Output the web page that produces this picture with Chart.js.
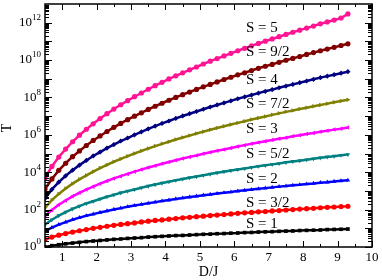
<!DOCTYPE html>
<html>
<head>
<meta charset="utf-8">
<script src="https://cdn.jsdelivr.net/npm/chart.js@4.4.0/dist/chart.umd.min.js"></script>
<style>
  html, body { margin: 0; padding: 0; background: #fff; }
  canvas { display: block; }
</style>
</head>
<body>
<canvas id="chart" width="382" height="280"></canvas>
<script>
// D/J values shared by every curve
const DJ = [0.5, 0.7, 0.9, 1.1, 1.3, 1.5, 1.7, 1.9, 2.1, 2.3, 2.5, 2.7, 2.9, 3.1, 3.3, 3.5, 3.7, 3.9,
  4.1, 4.3, 4.5, 4.7, 4.9, 5.1, 5.3, 5.5, 5.7, 5.9, 6.1, 6.3, 6.5, 6.7, 6.9, 7.1, 7.3, 7.5, 7.7,
  7.9, 8.1, 8.3, 8.5, 8.7, 8.9, 9.1, 9.3];

// log10(T), one array per spin
const logT_S1 = [0, .07, .12, .17, .21, .25, .29, .32, .35, .38, .41, .43, .46, .48, .50, .53, .55, .57,
  .59, .61, .62, .64, .66, .68, .69, .71, .72, .74, .75, .77, .78, .80, .81, .82, .84, .85, .86,
  .88, .89, .90, .91, .93, .94, .95, .96];
const logT_S3_2 = [.40, .53, .63, .72, .80, .87, .93, 1.00, 1.05, 1.11, 1.16, 1.21, 1.25, 1.29, 1.34, 1.38,
  1.42, 1.45, 1.49, 1.52, 1.56, 1.59, 1.62, 1.65, 1.68, 1.71, 1.74, 1.77, 1.80, 1.83, 1.85, 1.88,
  1.90, 1.93, 1.95, 1.98, 2.00, 2.03, 2.05, 2.07, 2.10, 2.12, 2.14, 2.16, 2.18];
const logT_S2 = [.85, 1.04, 1.20, 1.33, 1.46, 1.57, 1.67, 1.76, 1.85, 1.93, 2.01, 2.08, 2.15, 2.22, 2.28,
  2.34, 2.40, 2.46, 2.51, 2.57, 2.62, 2.67, 2.72, 2.77, 2.81, 2.86, 2.90, 2.94, 2.99, 3.03, 3.07,
  3.11, 3.15, 3.19, 3.23, 3.26, 3.30, 3.33, 3.37, 3.40, 3.44, 3.47, 3.51, 3.54, 3.57];
const logT_S5_2 = [1.20, 1.46, 1.68, 1.87, 2.04, 2.19, 2.33, 2.45, 2.57, 2.69, 2.79, 2.90, 2.99, 3.08, 3.17,
  3.26, 3.34, 3.42, 3.49, 3.57, 3.64, 3.71, 3.77, 3.84, 3.90, 3.97, 4.03, 4.09, 4.15, 4.20, 4.26,
  4.32, 4.37, 4.42, 4.47, 4.53, 4.58, 4.62, 4.67, 4.72, 4.77, 4.82, 4.86, 4.91, 4.95];
const logT_S3 = [1.65, 1.98, 2.26, 2.49, 2.71, 2.90, 3.07, 3.23, 3.39, 3.53, 3.67, 3.79, 3.91, 4.03, 4.14,
  4.25, 4.35, 4.45, 4.55, 4.64, 4.73, 4.82, 4.90, 4.99, 5.07, 5.15, 5.22, 5.30, 5.38, 5.45, 5.52,
  5.59, 5.66, 5.72, 5.79, 5.85, 5.92, 5.98, 6.04, 6.10, 6.16, 6.22, 6.28, 6.33, 6.39];
const logT_S7_2 = [2.10, 2.51, 2.84, 3.13, 3.39, 3.62, 3.83, 4.03, 4.22, 4.39, 4.56, 4.71, 4.86, 5.00, 5.14,
  5.27, 5.40, 5.52, 5.63, 5.75, 5.86, 5.96, 6.07, 6.17, 6.27, 6.37, 6.46, 6.55, 6.64, 6.73, 6.82,
  6.90, 6.98, 7.07, 7.15, 7.23, 7.30, 7.38, 7.45, 7.53, 7.60, 7.67, 7.74, 7.81, 7.88];
const logT_S4 = [2.60, 3.08, 3.47, 3.81, 4.11, 4.38, 4.63, 4.87, 5.08, 5.29, 5.48, 5.67, 5.83, 6.00, 6.16,
  6.32, 6.47, 6.61, 6.74, 6.88, 7.01, 7.13, 7.25, 7.37, 7.49, 7.60, 7.71, 7.82, 7.93, 8.03, 8.13,
  8.23, 8.33, 8.42, 8.52, 8.61, 8.70, 8.79, 8.88, 8.97, 9.06, 9.14, 9.22, 9.30, 9.38];
const logT_S9_2 = [3.10, 3.64, 4.10, 4.48, 4.83, 5.14, 5.43, 5.70, 5.94, 6.18, 6.40, 6.61, 6.81, 7.00, 7.18,
  7.36, 7.53, 7.69, 7.85, 8.00, 8.15, 8.29, 8.43, 8.57, 8.70, 8.83, 8.96, 9.08, 9.21, 9.32, 9.44,
  9.56, 9.67, 9.77, 9.88, 9.99, 10.09, 10.19, 10.30, 10.40, 10.50, 10.59, 10.68, 10.78, 10.87];
const logT_S5 = [3.70, 4.31, 4.81, 5.24, 5.63, 5.98, 6.30, 6.59, 6.87, 7.13, 7.38, 7.61, 7.83, 8.04, 8.24,
  8.44, 8.63, 8.81, 8.99, 9.16, 9.32, 9.48, 9.63, 9.79, 9.94, 10.08, 10.22, 10.36, 10.50, 10.63, 10.76,
  10.89, 11.01, 11.13, 11.25, 11.37, 11.49, 11.60, 11.71, 11.82, 11.94, 12.04, 12.14, 12.25, 12.47];

// curve labels and where they sit (data coords: D/J, log10 T)
const LABELS = ['S = 1', 'S = 3/2', 'S = 2', 'S = 5/2', 'S = 3', 'S = 7/2', 'S = 4', 'S = 9/2', 'S = 5'];
const LABEL_X = [6.34, 6.34, 6.34, 6.34, 6.34, 6.34, 6.34, 6.34, 6.34];
const LABEL_LOG = [1.23, 2.34, 3.62, 4.95, 6.29, 7.67, 8.95, 10.44, 11.72];

const X_TICKS = [1, 2, 3, 4, 5, 6, 7, 8, 9, 10];
const Y_TICK_EXP = [0, 2, 4, 6, 8, 10, 12];

const SERIF = '"Liberation Serif", "Times New Roman", serif';

const styles = [
  { c: '#000000', p: 'rect', r: 0 },
  { c: '#ff0000', p: 'circle', r: 0 },
  { c: '#0000ff', p: 'triangle', r: 0 },
  { c: '#008080', p: 'triangle', r: 180 },
  { c: '#ff00ff', p: 'triangle', r: 270 },
  { c: '#808000', p: 'triangle', r: 90 },
  { c: '#000080', p: 'rectRot', r: 0 },
  { c: '#800000', p: 'circle', r: 0 },
  { c: '#ff1493', p: 'circle', r: 0 },
];
const series = [logT_S1, logT_S3_2, logT_S2, logT_S5_2, logT_S3, logT_S7_2, logT_S4, logT_S9_2, logT_S5];

const datasets = series.map((arr, i) => ({
  label: LABELS[i],
  data: arr.map((v, k) => ({ x: DJ[k], y: Math.pow(10, v) })),
  borderColor: styles[i].c,
  backgroundColor: styles[i].c,
  borderWidth: 2.5,
  pointStyle: styles[i].p,
  pointRotation: styles[i].r,
  pointRadius: 2.6,
  pointBorderWidth: 0,
  tension: 0,
}));

const frame = {
  id: 'frame',
  afterDraw(chart) {
    const { ctx, chartArea: a, scales: { x, y } } = chart;
    ctx.save();
    ctx.strokeStyle = '#000';
    ctx.fillStyle = '#000';
    ctx.lineWidth = 1;
    ctx.beginPath();
    // x ticks, bottom and top, inward
    for (let v = 1; v <= 10; v += 0.5) {
      const px = Math.round(x.getPixelForValue(v)) + 0.5;
      const len = Number.isInteger(v) ? 6 : 3;
      ctx.moveTo(px, a.bottom); ctx.lineTo(px, a.bottom - len);
      ctx.moveTo(px, a.top); ctx.lineTo(px, a.top + len);
    }
    // y ticks, left and right, inward
    for (let d = 0; d <= 12; d++) {
      for (let m = 1; m <= 9; m++) {
        const py = Math.round(y.getPixelForValue(m * Math.pow(10, d))) + 0.5;
        const len = m === 1 ? 7 : 4;
        ctx.moveTo(a.left, py); ctx.lineTo(a.left + len, py);
        ctx.moveTo(a.right, py); ctx.lineTo(a.right - len, py);
      }
    }
    ctx.stroke();
    ctx.lineWidth = 1.5;
    ctx.strokeRect(a.left, a.top, a.right - a.left, a.bottom - a.top);

    // x tick labels
    ctx.font = '13px ' + SERIF;
    ctx.textAlign = 'center';
    ctx.textBaseline = 'middle';
    X_TICKS.forEach(v => ctx.fillText(String(v), x.getPixelForValue(v), a.bottom + 11));

    // y tick labels: 10^n
    Y_TICK_EXP.forEach(e => {
      const py = y.getPixelForValue(Math.pow(10, e));
      ctx.font = '9px ' + SERIF;
      const sup = String(e);
      const sw = ctx.measureText(sup).width;
      const right = a.left - 4;
      ctx.textAlign = 'left';
      ctx.fillText(sup, right - sw, py - 5);
      ctx.font = '13px ' + SERIF;
      ctx.textAlign = 'right';
      ctx.fillText('10', right - sw, py);
    });

    // axis titles
    ctx.font = '14px ' + SERIF;
    ctx.textAlign = 'center';
    ctx.fillText('D/J', (a.left + a.right) / 2, 272);
    ctx.save();
    ctx.translate(7, 128);
    ctx.rotate(-Math.PI / 2);
    ctx.fillText('T', 0, 0);
    ctx.restore();

    // curve labels
    ctx.font = '15px ' + SERIF;
    ctx.textAlign = 'left';
    LABELS.forEach((t, i) => {
      ctx.fillText(t, x.getPixelForValue(LABEL_X[i]), y.getPixelForValue(Math.pow(10, LABEL_LOG[i])));
    });
    ctx.restore();
  }
};

new Chart(document.getElementById('chart').getContext('2d'), {
  type: 'line',
  data: { datasets },
  options: {
    responsive: false,
    animation: false,
    layout: { padding: { top: 2, right: 10, left: 0, bottom: 0 } },
    plugins: { legend: { display: false }, tooltip: { enabled: false } },
    scales: {
      x: {
        type: 'linear', min: 0.5, max: 10,
        grid: { display: false }, border: { display: false }, ticks: { display: false },
        afterFit(s) { s.height = 33; }
      },
      y: {
        type: 'logarithmic', min: 1, max: 1e13,
        grid: { display: false }, border: { display: false }, ticks: { display: false },
        afterFit(s) { s.width = 45; }
      }
    }
  },
  plugins: [frame]
});
</script>
</body>
</html>
